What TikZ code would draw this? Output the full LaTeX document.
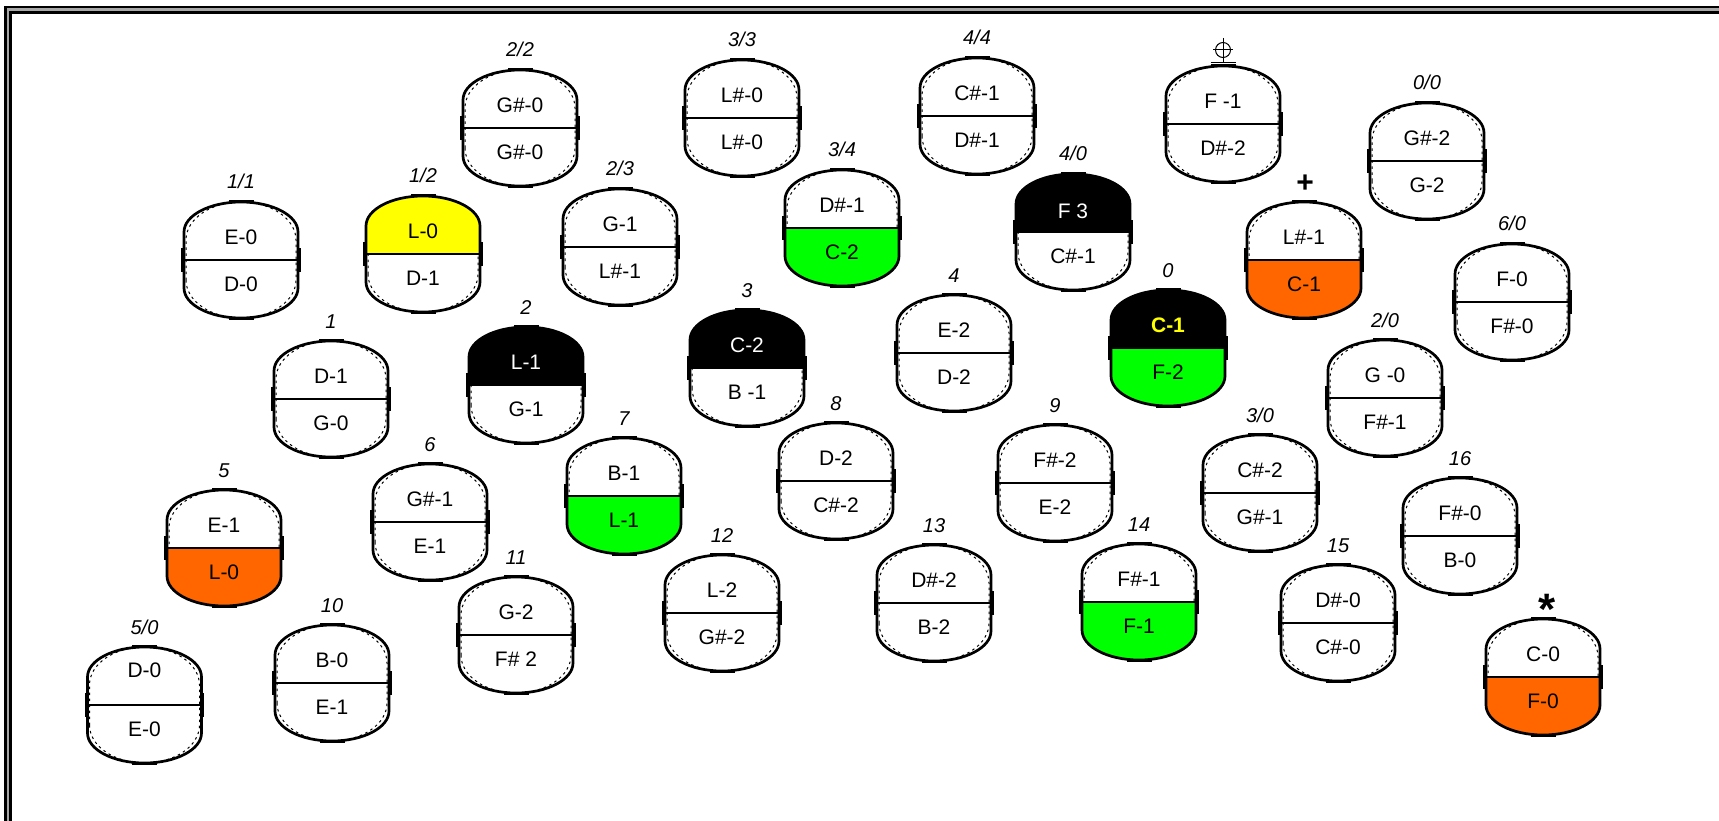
\documentclass[tikz,border=0pt]{standalone}
\usepackage{fontspec}
\setmainfont{Liberation Sans}
\definecolor{capgreen}{HTML}{00FF00}
\definecolor{capyellow}{HTML}{FFFF00}
\definecolor{caporange}{HTML}{FF6600}
\definecolor{framegray}{HTML}{A8A8A8}

\tikzset{
  capbody/.style={insert path={(-57,-28) -- (-57,28)
      arc[start angle=180,end angle=0,x radius=57pt,y radius=30pt]
      -- (57,-28)
      arc[start angle=0,end angle=-180,x radius=57pt,y radius=30pt] -- cycle}},
  captop/.style={insert path={(-57,0) -- (-57,28)
      arc[start angle=180,end angle=0,x radius=57pt,y radius=30pt]
      -- (57,0) -- cycle}},
  capbot/.style={insert path={(-57,0) -- (-57,-28)
      arc[start angle=180,end angle=360,x radius=57pt,y radius=30pt]
      -- (57,0) -- cycle}},
  capghost/.style={insert path={(-55,-20) -- (-55,20)
      arc[start angle=180,end angle=0,x radius=55pt,y radius=38pt]
      -- (55,-20)
      arc[start angle=0,end angle=-180,x radius=55pt,y radius=38pt] -- cycle}},
  capline/.style={line width=2.7pt, line join=round},
  ghostline/.style={line width=1pt, dash pattern=on 2.5pt off 3.5pt},
  captext/.style={anchor=base, inner sep=0pt, font=\fontsize{21}{21}\selectfont},
  caplabel/.style={anchor=base, inner sep=0pt, font=\fontsize{20}{20}\selectfont\itshape},
}

% #1 name, #2 x, #3 y of the divider, #4 label above,
% #5 upper text, #6 lower text, #7 upper fill, #8 lower fill, #9 raise of upper text
\newcommand\capsule[9]{%
  \begin{scope}[shift={(#2,-#3)}]
    \coordinate (#1) at (0,0);
    \path[fill=white, capbody];
    \draw[ghostline, capghost];
    \path[fill=#7, captop];
    \path[fill=#8, capbot];
    \draw[capline] (-57,0) -- (57,0);
    \draw[capline, capbody];
    \fill (-12.5,56.8) rectangle (12.5,60);
    \fill (-12.5,-60) rectangle (12.5,-56.8);
    \fill (-59.8,-12) rectangle (-56,12);
    \fill (56,-12) rectangle (59.8,12);
    \node[captext] (#1-top) at (0,15.5+#9) {#5};
    \node[captext] (#1-bot) at (0,-31.5) {#6};
    \node[caplabel] (#1-lab) at (0,71) {#4};
  \end{scope}}

\begin{document}
\begin{tikzpicture}[x=1pt,y=1pt]
  \useasboundingbox (0,0) rectangle (1719,-821);
  \fill[white] (0,0) rectangle (1719,-821);

  % double frame, top and left
  \fill[framegray] (4,-6) rectangle (1719,-14);
  \fill[framegray] (4,-6) rectangle (12,-821);
  \fill[white] (12,-14) rectangle (1719,-821);
  \fill[black] (4,-6) rectangle (1719,-8.3);
  \fill[black] (4,-6) rectangle (6.7,-821);
  \fill[black] (9,-11) rectangle (1719,-14);
  \fill[black] (9,-11) rectangle (12,-821);

  % upper row
  \capsule{p22}{520}{128}{2/2}{G\#-0}{G\#-0}{none}{none}{0}
  \capsule{p33}{742}{118}{3/3}{L\#-0}{L\#-0}{none}{none}{0}
  \capsule{p44}{977}{116}{4/4}{C\#-1}{D\#-1}{none}{none}{0}
  \capsule{pX}{1223}{124}{}{F -1}{D\#-2}{none}{none}{0}
  \capsule{p00}{1427}{161}{0/0}{G\#-2}{G-2}{none}{none}{0}

  \capsule{p11}{241}{260}{1/1}{E-0}{D-0}{none}{none}{0}
  \capsule{p12}{423}{254}{1/2}{L-0}{D-1}{capyellow}{none}{0}
  \capsule{p23}{620}{247}{2/3}{G-1}{L\#-1}{none}{none}{0}
  \capsule{p34}{842}{228}{3/4}{D\#-1}{C-2}{none}{capgreen}{0}
  \capsule{p40}{1073}{232}{4/0}{\color{white}F 3}{C\#-1}{black}{none}{-2}
  \capsule{pPlus}{1304}{260}{}{L\#-1}{C-1}{none}{caporange}{0}
  \capsule{p60}{1512}{302}{6/0}{F-0}{F\#-0}{none}{none}{0}

  % middle rows
  \capsule{n1}{331}{399}{1}{D-1}{G-0}{none}{none}{0}
  \capsule{n2}{526}{385}{2}{\color{white}L-1}{G-1}{black}{none}{0}
  \capsule{n3}{747}{368}{3}{\color{white}C-2}{B -1}{black}{none}{0}
  \capsule{n4}{954}{353}{4}{E-2}{D-2}{none}{none}{0}
  \capsule{n0}{1168}{348}{0}{\bfseries\color{capyellow}C-1}{F-2}{black}{capgreen}{0}
  \capsule{p20}{1385}{398}{2/0}{G -0}{F\#-1}{none}{none}{0}

  \capsule{n5}{224}{548}{5}{E-1}{L-0}{none}{caporange}{0}
  \capsule{n6}{430}{522}{6}{G\#-1}{E-1}{none}{none}{0}
  \capsule{n7}{624}{496}{7}{B-1}{L-1}{none}{capgreen}{0}
  \capsule{n8}{836}{481}{8}{D-2}{C\#-2}{none}{none}{0}
  \capsule{n9}{1055}{483}{9}{F\#-2}{E-2}{none}{none}{0}
  \capsule{p30}{1260}{493}{3/0}{C\#-2}{G\#-1}{none}{none}{0}
  \capsule{n16}{1460}{536}{16}{F\#-0}{B-0}{none}{none}{0}

  % lower rows
  \capsule{n11}{516}{635}{11}{G-2}{F\# 2}{none}{none}{0}
  \capsule{n12}{722}{613}{12}{L-2}{G\#-2}{none}{none}{0}
  \capsule{n13}{934}{603}{13}{D\#-2}{B-2}{none}{none}{0}
  \capsule{n14}{1139}{602}{14}{F\#-1}{F-1}{none}{capgreen}{0}
  \capsule{n15}{1338}{623}{15}{D\#-0}{C\#-0}{none}{none}{0}
  \capsule{n10}{332}{683}{10}{B-0}{E-1}{none}{none}{0}
  \capsule{p50}{144.5}{705}{5/0}{D-0}{E-0}{none}{none}{12}
  \capsule{pStar}{1543}{677}{}{C-0}{F-0}{none}{caporange}{0}

  % marks above three of the capsules
  \node[anchor=base, inner sep=0pt, font=\fontsize{30}{30}\selectfont\bfseries]
    (plusmark) at (1305,-193) {+};
  \node[anchor=base, inner sep=0pt, font=\fontsize{44}{44}\selectfont\bfseries]
    (starmark) at (1547,-624) {*};
  \begin{scope}[shift={(1223,-50)}, line width=1pt]
    \draw (0,0) circle[radius=7.5pt];
    \draw (-10,0) -- (10,0);
    \draw (0,12) -- (0,-13);
    \draw (-12.5,-13) -- (12.5,-13);
  \end{scope}
\end{tikzpicture}
\end{document}
